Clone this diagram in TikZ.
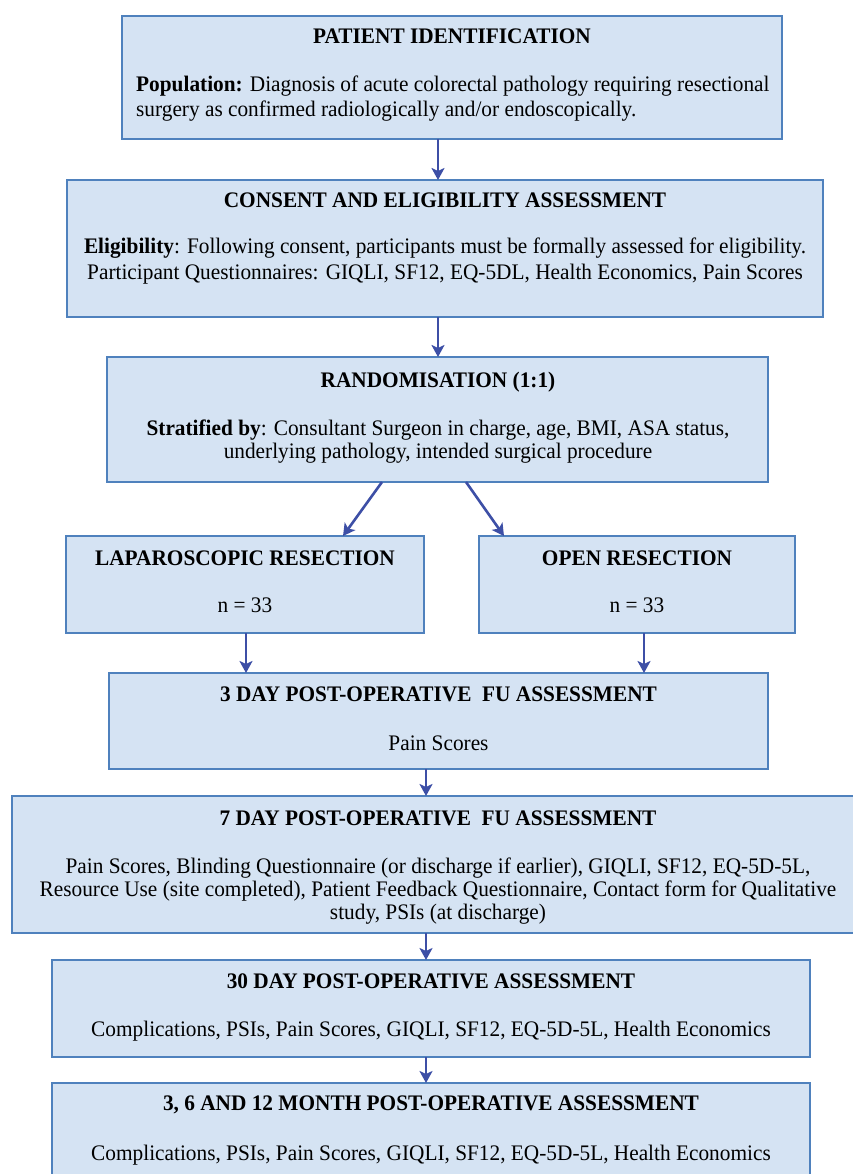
\documentclass[tikz,border=0pt]{standalone}
\usepackage{fontspec}
\setmainfont{Liberation Serif}[FakeStretch=0.96]
\usetikzlibrary{arrows.meta}
\definecolor{boxfill}{HTML}{D5E3F3}
\definecolor{boxline}{HTML}{4F81BD}
\definecolor{arrowc}{HTML}{3D4FA6}
\newcommand{\fsz}{\fontsize{22.2}{24}\selectfont}
\tikzset{
  box/.style={draw=boxline, fill=boxfill, line width=2.2pt, inner sep=0pt, outer sep=0pt},
  ttl/.style={font=\bfseries\fsz, inner sep=0pt, anchor=base},
  bodytxt/.style={font=\fsz, inner sep=0pt, align=center, anchor=north},
  single/.style={font=\fsz, inner sep=0pt, anchor=base},
  arr/.style={draw=arrowc, line width=2.6pt, -{Stealth[length=12pt,width=13pt,inset=3pt]}},
}
\begin{document}
\begin{tikzpicture}[x=1pt,y=-1pt]
\clip (0,0) rectangle (853,1174);
\fill[white] (0,0) rectangle (853,1174);

% boxes
\node[box, minimum width=660pt, minimum height=123pt] (b1) at (452,77.5) {};
\node[box, minimum width=756pt, minimum height=137pt] (b2) at (445,248.5) {};
\node[box, minimum width=661pt, minimum height=125pt] (b3) at (437.5,419.5) {};
\node[box, minimum width=358pt, minimum height=97pt] (b4) at (245,584.5) {};
\node[box, minimum width=316pt, minimum height=97pt] (b5) at (637,584.5) {};
\node[box, minimum width=659pt, minimum height=96pt] (b6) at (438.5,721) {};
\node[box, minimum width=852pt, minimum height=137pt] (b7) at (438,864.5) {};
\node[box, minimum width=758pt, minimum height=97pt] (b8) at (431,1008.5) {};
\node[box, minimum width=758pt, minimum height=117pt] (b9) at (431,1141.5) {};

% texts
\node[ttl] (t1) at (452,44) {PATIENT IDENTIFICATION};
\node[bodytxt, anchor=north west, align=left, font=\fontsize{22.2}{24.5}\selectfont] (x1) at (136,76)
  {\textbf{Population:} Diagnosis of acute colorectal pathology requiring resectional\\
   surgery as confirmed radiologically and/or endoscopically.};

\node[ttl] (t2) at (445,208) {CONSENT AND ELIGIBILITY ASSESSMENT};
\node[bodytxt, font=\fontsize{22.2}{26}\selectfont] (x2) at (445,238)
  {\textbf{Eligibility}: Following consent, participants must be formally assessed for eligibility.\\
   Participant Questionnaires: GIQLI, SF12, EQ-5DL, Health Economics, Pain Scores};

\node[ttl] (t3) at (438,387) {RANDOMISATION (1:1)};
\node[bodytxt, font=\fontsize{22.2}{23}\selectfont] (x3) at (438,420)
  {\textbf{Stratified by}: Consultant Surgeon in charge, age, BMI, ASA status,\\
   underlying pathology, intended surgical procedure};

\node[ttl] (t4) at (245,565) {LAPAROSCOPIC RESECTION};
\node[single] (x4) at (245,612) {n = 33};
\node[ttl] (t5) at (637,565) {OPEN RESECTION};
\node[single] (x5) at (637,612) {n = 33};

\node[ttl] (t6) at (438.5,701) {3 DAY POST-OPERATIVE\ \ FU ASSESSMENT};
\node[single] (x6) at (438.5,750) {Pain Scores};

\node[ttl] (t7) at (438,825) {7 DAY POST-OPERATIVE\ \ FU ASSESSMENT};
\node[bodytxt, font=\fontsize{22.2}{23}\selectfont] (x7) at (438,858)
  {Pain Scores, Blinding Questionnaire (or discharge if earlier), GIQLI, SF12, EQ-5D-5L,\\
   Resource Use (site completed), Patient Feedback Questionnaire, Contact form for Qualitative\\
   study, PSIs (at discharge)};

\node[ttl] (t8) at (431,988) {30 DAY POST-OPERATIVE ASSESSMENT};
\node[single] (x8) at (431,1036) {Complications, PSIs, Pain Scores, GIQLI, SF12, EQ-5D-5L, Health Economics};

\node[ttl] (t9) at (431,1110) {3, 6 AND 12 MONTH POST-OPERATIVE ASSESSMENT};
\node[single] (x9) at (431,1160) {Complications, PSIs, Pain Scores, GIQLI, SF12, EQ-5D-5L, Health Economics};

% arrow columns
\coordinate (ca) at (438,0);
\coordinate (cb) at (426,0);
\coordinate (cl) at (246,0);
\coordinate (cr) at (644,0);
\coordinate (d1) at (382,0);
\coordinate (d2) at (343,0);
\coordinate (d3) at (466,0);
\coordinate (d4) at (504,0);

\draw[arr] (b1.south -| ca) -- (b2.north -| ca);
\draw[arr] (b2.south -| ca) -- (b3.north -| ca);
\draw[arr] (b3.south -| d1) -- (b4.north -| d2);
\draw[arr] (b3.south -| d3) -- (b5.north -| d4);
\draw[arr] (b4.south -| cl) -- (b6.north -| cl);
\draw[arr] (b5.south -| cr) -- (b6.north -| cr);
\draw[arr] (b6.south -| cb) -- (b7.north -| cb);
\draw[arr] (b7.south -| cb) -- (b8.north -| cb);
\draw[arr] (b8.south -| cb) -- (b9.north -| cb);
\end{tikzpicture}
\end{document}
